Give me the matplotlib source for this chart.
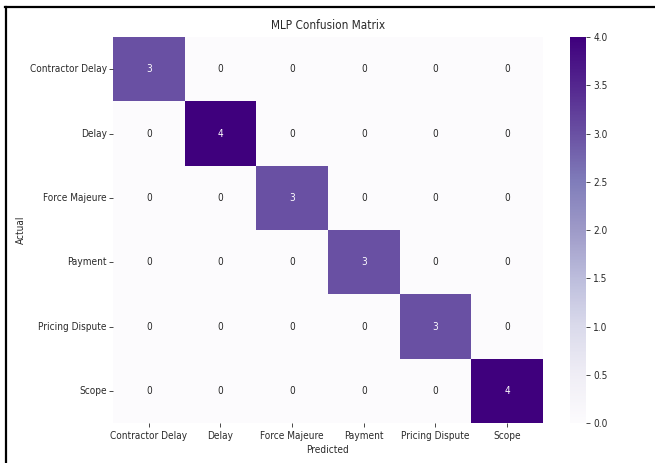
import numpy as np
import matplotlib
matplotlib.use("Agg")
import matplotlib.pyplot as plt
from matplotlib.lines import Line2D
import seaborn as sns

classes = ["Contractor Delay", "Delay", "Force Majeure", "Payment",
           "Pricing Dispute", "Scope"]
diag_counts = [3, 4, 3, 3, 3, 4]

cm = np.diag(diag_counts)

text_color = "#2a2a2a"
plt.rcParams["font.family"] = ["DejaVu Sans"]
plt.rcParams["font.stretch"] = "condensed"
plt.rcParams["text.color"] = text_color
plt.rcParams["axes.labelcolor"] = text_color
plt.rcParams["xtick.color"] = text_color
plt.rcParams["ytick.color"] = text_color

fig = plt.figure(figsize=(6.55, 4.63), dpi=100)
ax = fig.add_axes([0.1725, 0.0864, 0.6565, 0.8336])
cax = fig.add_axes([0.870, 0.0864, 0.025, 0.8336])

sns.heatmap(cm, annot=True, fmt="d", cmap="Purples", ax=ax, cbar_ax=cax,
            xticklabels=classes, yticklabels=classes,
            annot_kws={"fontsize": 7.2})

ax.set_title("MLP Confusion Matrix", fontsize=8.5, pad=6)
ax.set_xlabel("Predicted", fontsize=7.2, labelpad=3)
ax.set_ylabel("Actual", fontsize=7.2, labelpad=3)
ax.tick_params(axis="x", labelsize=7.2, length=3, width=0.6, pad=2.5)
ax.tick_params(axis="y", labelsize=7.2, length=3, width=0.6, pad=1.5)
plt.setp(ax.get_yticklabels(), rotation=0)
plt.setp(ax.get_xticklabels(), rotation=0)

cax.tick_params(labelsize=7.2, length=3, width=0.6, pad=2)
cax.yaxis.set_major_locator(plt.MultipleLocator(0.5))
cax.yaxis.set_major_formatter(plt.FormatStrFormatter("%.1f"))

# black frame along the left and top edges
fig.add_artist(Line2D([0.009, 0.009], [0.0, 0.985], transform=fig.transFigure,
                      color="black", linewidth=1.6))
fig.add_artist(Line2D([0.008, 1.0], [0.985, 0.985], transform=fig.transFigure,
                      color="black", linewidth=1.6))

fig.savefig("out.png", dpi=100)
